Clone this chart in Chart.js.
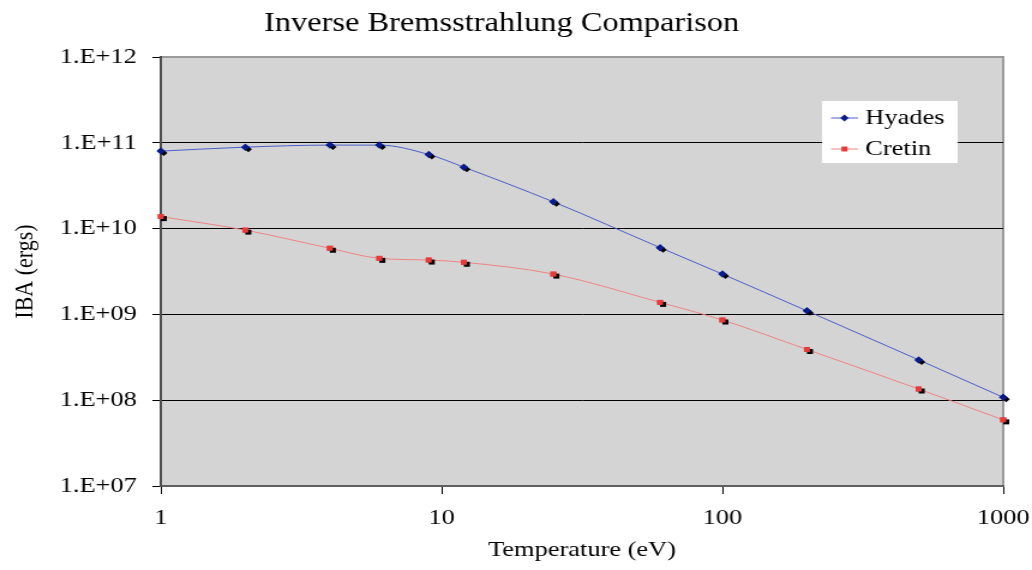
<!DOCTYPE html>
<html lang="en">
<head>
<meta charset="UTF-8">
<title>Inverse Bremsstrahlung Comparison</title>
<script src="https://cdn.jsdelivr.net/npm/chart.js"></script>
<style>
    html, body { margin: 0; padding: 0; background: #fff; }
    #chart { display: block; }
</style>
</head>
<body>
<!-- the original picture is stretched sideways (~1.2x), so the canvas is drawn narrow and stretched too -->
<canvas id="chart" width="860" height="570" style="width: 1032px; height: 570px;"></canvas>
<script>
const temperatures = [1, 2, 4, 6, 9, 12, 25, 60, 100, 200, 500, 1000];
const hyades = [8.0e10, 8.9e10, 9.4e10, 9.4e10, 7.3e10, 5.2e10, 2.05e10, 6.0e9, 2.95e9, 1.1e9, 2.95e8, 1.08e8];
const cretin = [1.38e10, 9.6e9, 5.9e9, 4.5e9, 4.3e9, 4.05e9, 2.95e9, 1.38e9, 8.6e8, 3.9e8, 1.35e8, 5.9e7];

const xTicks = [1, 10, 100, 1000];
const xTickLabels = ['1', '10', '100', '1000'];
const yTicks = [1e7, 1e8, 1e9, 1e10, 1e11, 1e12];
const yTickLabels = ['1.E+07', '1.E+08', '1.E+09', '1.E+10', '1.E+11', '1.E+12'];

Chart.defaults.font.family = "'Liberation Serif', 'Times New Roman', serif";
Chart.defaults.font.size = 22;
Chart.defaults.color = '#000';

function toPoints(values) {
    return temperatures.map((t, i) => ({ x: t, y: values[i] }));
}

// gray plot area with a light frame
const plotBackground = {
    id: 'plotBackground',
    beforeDraw(chart) {
        const { left, top, width, height } = chart.chartArea;
        const ctx = chart.ctx;
        ctx.save();
        ctx.fillStyle = '#d4d4d4';
        ctx.fillRect(left, top, width, height);
        ctx.strokeStyle = '#9a9a9a';
        ctx.lineWidth = 2;
        ctx.strokeRect(left, top, width, height);
        ctx.restore();
    }
};

// excel left a black copy of every marker a little down-right
const markerShadow = {
    id: 'markerShadow',
    afterDatasetsDraw(chart) {
        const ctx = chart.ctx;
        chart.data.datasets.forEach((ds, i) => {
            const meta = chart.getDatasetMeta(i);
            meta.data.forEach(pt => {
                const sx = pt.x + 2.5, sy = pt.y + 2;
                ctx.save();
                ctx.fillStyle = '#000';
                ctx.beginPath();
                if (ds.pointStyle === 'rect') {
                    ctx.rect(sx - 2.5, sy - 2.5, 5, 5);
                } else {
                    ctx.moveTo(sx, sy - 3);
                    ctx.lineTo(sx + 3, sy);
                    ctx.lineTo(sx, sy + 3);
                    ctx.lineTo(sx - 3, sy);
                    ctx.closePath();
                }
                ctx.fill();
                ctx.restore();
                pt.draw(ctx, chart.chartArea);
            });
        });
    }
};

// legend box inside the plot, top right
const boxLegend = {
    id: 'boxLegend',
    afterDraw(chart) {
        const ctx = chart.ctx;
        const x = chart.chartArea.right - 151;
        const y = chart.chartArea.top + 44;
        ctx.save();
        ctx.fillStyle = '#fff';
        ctx.fillRect(x, y, 113, 62);
        ctx.font = "22px 'Liberation Serif'";
        ctx.textBaseline = 'alphabetic';
        chart.data.datasets.forEach((ds, i) => {
            const base = y + 23 + i * 31;
            const cy = base - 6;
            ctx.strokeStyle = ds.borderColor;
            ctx.lineWidth = 1;
            ctx.beginPath();
            ctx.moveTo(x + 7.5, cy);
            ctx.lineTo(x + 30, cy);
            ctx.stroke();
            ctx.fillStyle = ds.pointBackgroundColor;
            const mx = x + 18.7;
            ctx.beginPath();
            if (ds.pointStyle === 'rect') {
                ctx.rect(mx - 2.5, cy - 2.5, 5, 5);
            } else {
                ctx.moveTo(mx, cy - 3.5);
                ctx.lineTo(mx + 3.5, cy);
                ctx.lineTo(mx, cy + 3.5);
                ctx.lineTo(mx - 3.5, cy);
                ctx.closePath();
            }
            ctx.fill();
            ctx.fillStyle = '#000';
            ctx.fillText(ds.label, x + 36, base);
        });
        ctx.restore();
    }
};

new Chart(document.getElementById('chart'), {
    type: 'line',
    data: {
        datasets: [
            {
                label: 'Hyades',
                data: toPoints(hyades),
                borderColor: '#4b5fc9',
                borderWidth: 1,
                pointStyle: 'rectRot',
                pointRadius: 3.5,
                pointBackgroundColor: '#0b1c8c',
                pointBorderColor: '#0b1c8c',
                pointBorderWidth: 0,
                cubicInterpolationMode: 'monotone',
                clip: false
            },
            {
                label: 'Cretin',
                data: toPoints(cretin),
                borderColor: '#f08484',
                borderWidth: 1,
                pointStyle: 'rect',
                pointRadius: 3.5,
                pointBackgroundColor: '#e83c3c',
                pointBorderColor: '#e83c3c',
                pointBorderWidth: 0,
                cubicInterpolationMode: 'monotone',
                clip: false
            }
        ]
    },
    options: {
        responsive: false,
        animation: false,
        events: [],
        layout: { padding: { left: 0, right: 24, top: 0, bottom: 0 } },
        plugins: {
            legend: { display: false },
            tooltip: { enabled: false },
            title: {
                display: true,
                text: 'Inverse Bremsstrahlung Comparison',
                font: { size: 27, weight: 'normal' },
                color: '#000',
                padding: { top: 8, bottom: 16.6 }
            }
        },
        scales: {
            x: {
                type: 'logarithmic',
                min: 1,
                max: 1000,
                afterFit(scale) {
                    scale.height = 84;
                    // let "1000" hang over the right edge like in the original
                    scale.paddingLeft = 0;
                    scale.paddingRight = 0;
                },
                afterBuildTicks(scale) { scale.ticks = xTicks.map(v => ({ value: v })); },
                ticks: {
                    autoSkip: false,
                    maxRotation: 0,
                    padding: 11,
                    callback: (value, index) => xTickLabels[index]
                },
                grid: { drawOnChartArea: false, color: '#000', tickLength: 8 },
                border: { color: '#606060', width: 2 },
                title: {
                    display: true,
                    text: 'Temperature (eV)',
                    font: { size: 22 },
                    padding: { top: 0, bottom: 7 }
                }
            },
            y: {
                type: 'logarithmic',
                min: 1e7,
                max: 1e12,
                afterFit(scale) { scale.width = 134; },
                afterBuildTicks(scale) { scale.ticks = yTicks.map(v => ({ value: v })); },
                ticks: {
                    padding: 13,
                    callback: (value, index) => yTickLabels[index]
                },
                grid: {
                    color: ctx => (ctx.tick && ctx.tick.value === 1e12) ? '#9a9a9a' : '#000',
                    tickColor: '#000',
                    tickLength: 7,
                    lineWidth: 1
                },
                border: { color: '#4d4d4d', width: 2 },
                title: {
                    display: true,
                    text: 'IBA (ergs)',
                    font: { size: 22 },
                    padding: { top: 8, bottom: 0 }
                }
            }
        }
    },
    plugins: [plotBackground, markerShadow, boxLegend]
});
</script>
</body>
</html>
